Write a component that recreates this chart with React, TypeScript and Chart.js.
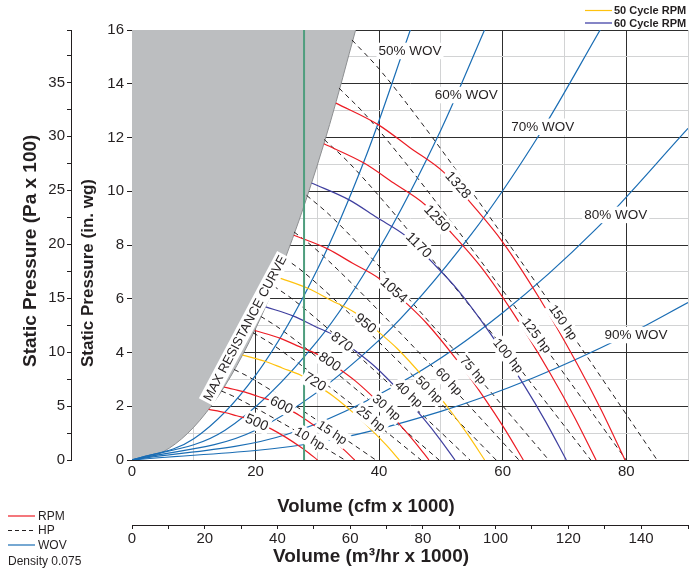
import React, { useEffect, useRef } from "react";
import { Chart, registerables } from "chart.js";

Chart.register(...registerables);

// ---------------- data ----------------
const cfmTicks = [0, 20, 40, 60, 80];
const inWgTicks = [0, 2, 4, 6, 8, 10, 12, 14, 16];
const paTicks = [0, 5, 10, 15, 20, 25, 30, 35];
const m3hTicks = [0, 20, 40, 60, 80, 100, 120, 140];

const xMaxCfm = 90;
const yMaxInWg = 16;
const paPerInWg = 2.4909; // (Pa x 100) per in. wg
const m3hPerCfm = 1.699;

// max resistance curve (cfm x1000, in. wg)
const maxResistance = [
  [0, 0], [4, 0.19], [8, 0.78], [12, 1.76], [16, 3.12], [20, 4.88],
  [24, 7.03], [28, 9.56], [32, 12.49], [36.2, 16.0],
];

const markerCfm = 27.85;

// RPM curves
const rpmNames = ["500", "600", "720", "800", "870", "950", "1054", "1170", "1250", "1328"];
const rpmKind = ["rpm", "rpm", "c50", "rpm", "c60", "c50", "rpm", "c60", "rpm", "rpm"];
const rpm500 = [[12.42, 1.883], [15.02, 1.768], [16.94, 1.647], [18.98, 1.52], [20.71, 1.35], [22.59, 1.15], [24.85, 0.851], [27.11, 0.51], [28.61, 0.261], [30.04, 0]];
const rpm600 = [[14.91, 2.711], [18.03, 2.546], [20.33, 2.372], [22.77, 2.188], [24.85, 1.943], [27.11, 1.655], [29.82, 1.225], [32.53, 0.735], [34.34, 0.376], [36.05, 0]];
const rpm720 = [[17.89, 3.904], [21.63, 3.666], [24.4, 3.416], [27.33, 3.151], [29.82, 2.798], [32.53, 2.384], [35.79, 1.764], [39.04, 1.058], [41.21, 0.541], [43.27, 0]];
const rpm800 = [[19.88, 4.819], [24.04, 4.525], [27.11, 4.217], [30.36, 3.89], [33.13, 3.455], [36.14, 2.943], [39.76, 2.177], [43.37, 1.306], [45.78, 0.668], [48.07, 0]];
const rpm870 = [[21.62, 5.7], [26.14, 5.352], [29.48, 4.987], [33.02, 4.601], [36.03, 4.086], [39.31, 3.481], [43.24, 2.575], [47.17, 1.545], [49.79, 0.79], [52.28, 0]];
const rpm950 = [[23.61, 6.796], [28.54, 6.381], [32.19, 5.947], [36.06, 5.486], [39.35, 4.872], [42.92, 4.15], [47.22, 3.07], [51.51, 1.842], [54.37, 0.942], [57.09, 0]];
const rpm1054 = [[26.19, 8.365], [31.67, 7.855], [35.72, 7.32], [40.0, 6.753], [43.65, 5.997], [47.62, 5.108], [52.38, 3.779], [57.15, 2.268], [60.32, 1.159], [63.34, 0]];
const rpm1170 = [[29.07, 10.307], [35.15, 9.679], [39.65, 9.019], [44.4, 8.321], [48.46, 7.389], [52.86, 6.295], [58.15, 4.657], [63.43, 2.794], [66.96, 1.428], [70.3, 0]];
const rpm1250 = [[31.06, 11.766], [37.56, 11.048], [42.36, 10.303], [47.44, 9.498], [51.77, 8.435], [56.48, 7.185], [62.13, 5.316], [67.77, 3.19], [71.54, 1.63], [75.12, 0]];
const rpm1328 = [[33.0, 13.28], [39.9, 12.47], [45.0, 11.62], [50.4, 10.72], [55.0, 9.52], [60.0, 8.11], [66.0, 6.0], [72.0, 3.6], [76.0, 1.84], [79.8, 0]];
const rpmCurves = [rpm500, rpm600, rpm720, rpm800, rpm870, rpm950, rpm1054, rpm1170, rpm1250, rpm1328];
const rpmLabelQ = [20.2, 24.2, 29.6, 32.0, 34.0, 37.8, 42.4, 46.4, 49.4, 52.8];
const rpmLabelP = [1.4, 2.05, 2.91, 3.66, 4.4, 5.09, 6.32, 8.0, 8.99, 10.23];

// brake horsepower lines
const hpNames = ["10 hp", "15 hp", "25 hp", "30 hp", "40 hp", "50 hp", "60 hp", "75 hp", "100 hp", "125 hp", "150 hp"];
const hp10 = [[14.44, 2.57], [16.22, 2.392], [19.06, 2.055], [22.3, 1.641], [25.55, 1.213], [28.39, 0.835], [31.43, 0.419], [34.47, 0]];
const hp15 = [[16.53, 3.367], [18.57, 3.134], [21.82, 2.693], [25.53, 2.15], [29.24, 1.59], [32.49, 1.094], [35.98, 0.549], [39.46, 0]];
const hp25 = [[19.59, 4.734], [22.01, 4.407], [25.86, 3.786], [30.27, 3.023], [34.67, 2.235], [38.52, 1.539], [42.65, 0.772], [46.78, 0]];
const hp30 = [[20.82, 5.345], [23.39, 4.976], [27.49, 4.275], [32.16, 3.413], [36.84, 2.524], [40.94, 1.737], [45.32, 0.872], [49.71, 0]];
const hp40 = [[22.91, 6.474], [25.74, 6.027], [30.25, 5.178], [35.4, 4.134], [40.55, 3.057], [45.05, 2.104], [49.88, 1.056], [54.71, 0]];
const hp50 = [[24.69, 7.515], [27.74, 6.996], [32.59, 6.01], [38.14, 4.798], [43.68, 3.548], [48.54, 2.442], [53.74, 1.226], [58.94, 0]];
const hp60 = [[26.23, 8.486], [29.47, 7.899], [34.63, 6.786], [40.52, 5.418], [46.42, 4.007], [51.58, 2.758], [57.1, 1.384], [62.63, 0]];
const hp75 = [[28.26, 9.847], [31.75, 9.167], [37.3, 7.875], [43.65, 6.287], [50.0, 4.649], [55.56, 3.2], [61.51, 1.607], [67.46, 0]];
const hp100 = [[31.1, 11.927], [34.94, 11.103], [41.06, 9.539], [48.05, 7.616], [55.04, 5.632], [61.15, 3.877], [67.7, 1.946], [74.26, 0]];
const hp125 = [[33.5, 13.84], [37.64, 12.884], [44.23, 11.069], [51.76, 8.837], [59.28, 6.535], [65.87, 4.498], [72.93, 2.258], [79.99, 0]];
const hp150 = [[35.6, 15.63], [40.0, 14.55], [47.0, 12.5], [55.0, 9.98], [63.0, 7.38], [70.0, 5.08], [77.5, 2.55], [85.0, 0]];
const hpCurves = [hp10, hp15, hp25, hp30, hp40, hp50, hp60, hp75, hp100, hp125, hp150];
const hpLabelQ = [28.8, 32.4, 38.7, 41.2, 44.8, 48.1, 51.3, 55.2, 60.9, 65.5, 69.8];
const hpLabelP = [0.8, 1.02, 1.53, 1.95, 2.45, 2.62, 2.92, 3.35, 3.88, 4.63, 5.12];

// % wide open volume lines
const wovNames = ["50% WOV", "60% WOV", "70% WOV", "80% WOV", "90% WOV"];
const wov50 = [[0, 0], [10, 0.79], [20, 3.15], [30, 7.09], [38, 11.38], [45.1, 16.03]];
const wov60 = [[0, 0], [15, 1.1], [30, 4.42], [40, 7.86], [50, 12.28], [57.5, 16.23]];
const wov70 = [[0, 0], [20, 1.11], [40, 4.46], [55, 8.42], [66, 12.13], [76, 16.09]];
const wov80 = [[0, 0], [25, 0.95], [45, 3.08], [60, 5.48], [75, 8.57], [90, 12.34]];
const wov90 = [[0, 0], [30, 0.65], [50, 1.81], [65, 3.06], [80, 4.63], [90, 5.86]];
const wovCurves = [wov50, wov60, wov70, wov80, wov90];
const wovLabelQ = [45.0, 54.1, 66.5, 78.3, 81.6];
const wovLabelP = [15.22, 13.58, 12.4, 9.12, 4.65];

const maxResLabelQ = 18.3;
const maxResLabelP = 4.9;

// ---------------- styles ----------------
const C_DARK = "#231f20";
const C_RED = "#ec1c24";
const C_YEL = "#ffc20e";
const C_PUR = "#3f3f9f";
const C_BLUE = "#1a6db4";
const C_GRAY = "#bcbec0";
const C_GREEN = "#4f9e7e";
const FONT = '"Liberation Sans", Arial, Helvetica, sans-serif';

const kindColor: Record<string, string> = { rpm: C_RED, c50: C_YEL, c60: C_PUR };

const toPts = (arr: number[][]) => arr.map(([x, y]) => ({ x, y }));

function curveAngle(chart: any, curve: number[][], q: number) {
  const xs = chart.scales.x;
  const ys = chart.scales.y;
  let i = 0;
  while (i < curve.length - 2 && curve[i + 1][0] < q) i++;
  const a = curve[i];
  const b = curve[i + 1];
  const dx = xs.getPixelForValue(b[0]) - xs.getPixelForValue(a[0]);
  const dy = ys.getPixelForValue(b[1]) - ys.getPixelForValue(a[1]);
  return Math.atan2(dy, dx);
}

function boxedText(ctx: CanvasRenderingContext2D, text: string, x: number, y: number, ang: number, size: number, bg: boolean) {
  ctx.save();
  ctx.translate(x, y);
  ctx.rotate(ang);
  ctx.font = `${size}px ${FONT}`;
  const w = ctx.measureText(text).width;
  if (bg) {
    ctx.fillStyle = "#ffffff";
    ctx.fillRect(-w / 2 - 2, -size / 2 - 1.5, w + 4, size + 3);
  }
  ctx.fillStyle = C_DARK;
  ctx.textAlign = "center";
  ctx.textBaseline = "middle";
  ctx.fillText(text, 0, 0.5);
  ctx.restore();
}

const labelPlugin = {
  id: "curveLabels",
  afterDatasetsDraw(chart: any) {
    const ctx = chart.ctx as CanvasRenderingContext2D;
    const xs = chart.scales.x;
    const ys = chart.scales.y;
    const { left, top, right, bottom } = chart.chartArea;
    ctx.save();
    ctx.beginPath();
    ctx.rect(left, top, right - left, bottom - top);
    ctx.clip();
    hpNames.forEach((t, i) => {
      const a = curveAngle(chart, hpCurves[i], hpLabelQ[i]);
      boxedText(ctx, t, xs.getPixelForValue(hpLabelQ[i]), ys.getPixelForValue(hpLabelP[i]), a, 13, true);
    });
    rpmNames.forEach((t, i) => {
      const a = curveAngle(chart, rpmCurves[i], rpmLabelQ[i]);
      boxedText(ctx, t, xs.getPixelForValue(rpmLabelQ[i]), ys.getPixelForValue(rpmLabelP[i]), a, 14, true);
    });
    wovNames.forEach((t, i) => {
      boxedText(ctx, t, xs.getPixelForValue(wovLabelQ[i]), ys.getPixelForValue(wovLabelP[i]), 0, 13.5, true);
    });
    boxedText(ctx, "MAX RESISTANCE CURVE", xs.getPixelForValue(maxResLabelQ), ys.getPixelForValue(maxResLabelP), (-62 * Math.PI) / 180, 13, true);
    ctx.restore();
  },
  afterDraw(chart: any) {
    const ctx = chart.ctx as CanvasRenderingContext2D;
    ctx.save();
    ctx.fillStyle = C_DARK;
    // axis titles (vertical, reading upward from the bottom anchor)
    ctx.textAlign = "left";
    ctx.textBaseline = "middle";
    ctx.save();
    ctx.font = `bold 19px ${FONT}`;
    ctx.translate(31, 367);
    ctx.rotate(-Math.PI / 2);
    ctx.fillText("Static Pressure (Pa x 100)", 0, 0);
    ctx.restore();
    ctx.save();
    ctx.font = `bold 17px ${FONT}`;
    ctx.translate(88, 367);
    ctx.rotate(-Math.PI / 2);
    ctx.fillText("Static Pressure (in. wg)", 0, 0);
    ctx.restore();
    ctx.textAlign = "center";
    ctx.font = `bold 18.5px ${FONT}`;
    ctx.fillText("Volume (cfm x 1000)", 366, 507);
    ctx.font = `bold 19px ${FONT}`;
    ctx.fillText("Volume (m\u00B3/hr x 1000)", 371, 557);

    // top-right legend
    ctx.lineWidth = 1.2;
    ctx.strokeStyle = C_YEL;
    ctx.beginPath(); ctx.moveTo(585, 10.5); ctx.lineTo(612, 10.5); ctx.stroke();
    ctx.lineWidth = 2;
    ctx.strokeStyle = "#8585c6";
    ctx.beginPath(); ctx.moveTo(585, 23); ctx.lineTo(612, 23); ctx.stroke();
    ctx.font = `bold 11px ${FONT}`;
    ctx.textAlign = "left";
    ctx.fillText("50 Cycle RPM", 614, 10.5);
    ctx.fillText("60 Cycle RPM", 614, 23.5);

    // bottom-left legend
    ctx.lineWidth = 1.2;
    ctx.strokeStyle = C_RED;
    ctx.beginPath(); ctx.moveTo(8, 516); ctx.lineTo(35, 516); ctx.stroke();
    ctx.strokeStyle = C_DARK;
    ctx.setLineDash([4, 3]);
    ctx.beginPath(); ctx.moveTo(8, 530.5); ctx.lineTo(35, 530.5); ctx.stroke();
    ctx.setLineDash([]);
    ctx.strokeStyle = C_BLUE;
    ctx.beginPath(); ctx.moveTo(8, 545); ctx.lineTo(35, 545); ctx.stroke();
    ctx.font = `12px ${FONT}`;
    ctx.fillText("RPM", 38, 516.5);
    ctx.fillText("HP", 38, 531);
    ctx.fillText("WOV", 38, 545.5);
    ctx.fillText("Density 0.075", 8, 561.5);
    ctx.restore();
  },
};

export default function App() {
  const ref = useRef<HTMLCanvasElement | null>(null);

  useEffect(() => {
    document.body.style.margin = "0";
    const canvas = ref.current;
    if (!canvas) return;

    const datasets: any[] = [];
    datasets.push({
      label: "Max resistance",
      data: toPts(maxResistance),
      borderColor: "#8d8f91",
      borderWidth: 1,
      backgroundColor: C_GRAY,
      fill: "end",
      pointRadius: 0,
      cubicInterpolationMode: "monotone",
      order: 20,
    });
    hpCurves.forEach((c, i) =>
      datasets.push({
        label: hpNames[i],
        data: toPts(c),
        borderColor: C_DARK,
        borderWidth: 1,
        borderDash: [5, 4],
        fill: false,
        pointRadius: 0,
        cubicInterpolationMode: "monotone",
        order: 12,
      })
    );
    wovCurves.forEach((c, i) =>
      datasets.push({
        label: wovNames[i],
        data: toPts(c),
        borderColor: C_BLUE,
        borderWidth: 1.2,
        fill: false,
        pointRadius: 0,
        cubicInterpolationMode: "monotone",
        order: 10,
      })
    );
    rpmCurves.forEach((c, i) =>
      datasets.push({
        label: rpmNames[i] + " rpm",
        data: toPts(c),
        borderColor: kindColor[rpmKind[i]],
        borderWidth: 1.2,
        fill: false,
        pointRadius: 0,
        cubicInterpolationMode: "monotone",
        order: 8,
      })
    );
    datasets.push({
      label: "marker",
      data: [{ x: markerCfm, y: 0 }, { x: markerCfm, y: yMaxInWg }],
      borderColor: C_GREEN,
      borderWidth: 2,
      fill: false,
      pointRadius: 0,
      order: 1,
    });

    const tickFont = { family: FONT, size: 15 };

    const chart = new Chart(canvas, {
      type: "line",
      data: { datasets },
      plugins: [labelPlugin],
      options: {
        responsive: false,
        animation: false,
        events: [],
        devicePixelRatio: 1,
        layout: { padding: { top: 30, right: 0, left: 0, bottom: 0 } },
        plugins: { legend: { display: false }, tooltip: { enabled: false } },
        scales: {
          x: {
            type: "linear",
            position: "bottom",
            weight: 0,
            min: 0,
            max: xMaxCfm,
            afterFit: (s: any) => { s.height = 65; },
            ticks: {
              stepSize: 10,
              autoSkip: false,
              maxRotation: 0,
              padding: 3,
              color: C_DARK,
              font: tickFont,
              callback: (v: any) => (cfmTicks.includes(Number(v)) ? String(v) : ""),
            },
            grid: {
              drawTicks: false,
              lineWidth: 1,
              color: (c: any) => (Number(c.tick?.value) % 20 === 0 ? "#2e2e2e" : "#d2d3d4"),
            },
            border: { display: true, color: C_DARK, width: 1 },
          },
          x2: {
            type: "linear",
            position: "bottom",
            weight: 1,
            min: 0,
            max: xMaxCfm * m3hPerCfm,
            afterFit: (s: any) => { s.height = 46; },
            ticks: {
              stepSize: 10,
              autoSkip: false,
              maxRotation: 0,
              padding: 1,
              color: C_DARK,
              font: tickFont,
              callback: (v: any) => (m3hTicks.includes(Number(v)) ? String(v) : ""),
            },
            grid: { drawOnChartArea: false, drawTicks: true, tickLength: 4, color: C_DARK },
            border: { display: true, color: C_DARK, width: 1 },
          },
          y: {
            type: "linear",
            position: "left",
            weight: 0,
            min: 0,
            max: yMaxInWg,
            afterFit: (s: any) => { s.width = 61; },
            ticks: {
              stepSize: 1,
              autoSkip: false,
              padding: 3,
              color: C_DARK,
              font: tickFont,
              callback: (v: any) => (inWgTicks.includes(Number(v)) ? String(v) : ""),
            },
            grid: {
              drawTicks: true,
              tickLength: 5,
              lineWidth: 1,
              color: (c: any) => (Number(c.tick?.value) % 2 === 0 ? "#2e2e2e" : "#d2d3d4"),
              tickColor: (c: any) => (Number(c.tick?.value) % 2 === 0 ? C_DARK : "rgba(0,0,0,0)"),
            },
            border: { display: true, color: C_DARK, width: 1 },
          },
          y2: {
            type: "linear",
            position: "left",
            weight: 1,
            min: 0,
            max: yMaxInWg * paPerInWg,
            afterFit: (s: any) => { s.width = 71; },
            ticks: {
              stepSize: 2.5,
              autoSkip: false,
              padding: 2,
              color: C_DARK,
              font: tickFont,
              callback: (v: any) => (paTicks.includes(Number(v)) ? String(v) : ""),
            },
            grid: { drawOnChartArea: false, drawTicks: true, tickLength: 4, color: C_DARK },
            border: { display: true, color: C_DARK, width: 1 },
          },
        },
      } as any,
    });

    return () => chart.destroy();
  }, []);

  return (
    <div style={{ width: 691, height: 571 }}>
      <canvas ref={ref} width={691} height={571} style={{ display: "block", width: 691, height: 571 }} />
    </div>
  );
}
